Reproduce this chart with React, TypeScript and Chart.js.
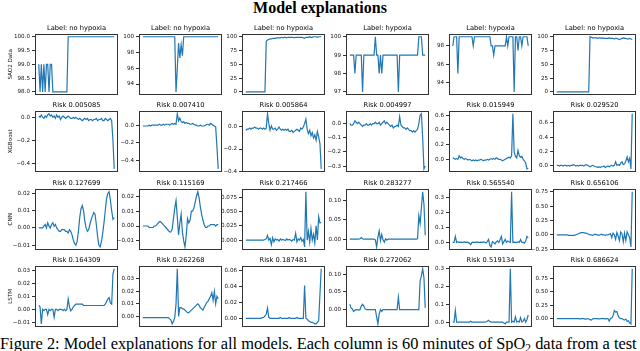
import React, { useEffect, useRef } from "react";
import { Chart, registerables } from "chart.js";

Chart.register(...registerables);
Chart.defaults.font.family = "'DejaVu Sans'";

// ---------- text ----------
const figTitle = "Model explanations";
const rowNames = ["SAO2 Data", "XGBoost", "CNN", "LSTM"];
const labelTitles = ["Label: no hypoxia", "Label: no hypoxia", "Label: no hypoxia", "Label: hypoxia", "Label: hypoxia", "Label: no hypoxia"];
const xgbTitles = ["Risk 0.005085", "Risk 0.007410", "Risk 0.005864", "Risk 0.004997", "Risk 0.015949", "Risk 0.029520"];
const cnnTitles = ["Risk 0.127699", "Risk 0.115169", "Risk 0.217466", "Risk 0.283277", "Risk 0.565540", "Risk 0.656106"];
const lstmTitles = ["Risk 0.164309", "Risk 0.262268", "Risk 0.187481", "Risk 0.272062", "Risk 0.519134", "Risk 0.686624"];

// ---------- tick labels ----------
const sao2Ticks = [
  ["98.0", "98.5", "99.0", "99.5", "100.0"],
  ["94", "96", "98", "100"],
  ["0", "25", "50", "75", "100"],
  ["97", "98", "99", "100"],
  ["94", "96", "98"],
  ["0", "25", "50", "75", "100"],
];
const xgbTicks = [
  ["\u22120.4", "\u22120.2", "0.0"],
  ["\u22120.4", "\u22120.2", "0.0"],
  ["\u22120.4", "\u22120.2", "0.0"],
  ["\u22120.3", "\u22120.2", "\u22120.1", "0.0"],
  ["0.0", "0.2", "0.4", "0.6"],
  ["0.0", "0.2", "0.4", "0.6"],
];
const cnnTicks = [
  ["\u22120.01", "0.00", "0.01", "0.02"],
  ["\u22120.01", "0.00", "0.01", "0.02"],
  ["0.000", "0.025", "0.050", "0.075"],
  ["0.00", "0.05", "0.10"],
  ["0.0", "0.1", "0.2", "0.3"],
  ["\u22120.25", "0.00", "0.25", "0.50", "0.75"],
];
const lstmTicks = [
  ["\u22120.01", "0.00", "0.01", "0.02", "0.03"],
  ["0.00", "0.01", "0.02", "0.03"],
  ["0.00", "0.02", "0.04", "0.06"],
  ["0.00", "0.05", "0.10"],
  ["0.0", "0.1", "0.2", "0.3"],
  ["0.00", "0.25", "0.50", "0.75"],
];

// ---------- SpO2 data (60 minutes) ----------
const sao2_c1 = [
  99, 98, 99, 98, 99, 98, 99, 99, 98, 99,
  99, 98, 98, 98, 98, 98, 98, 98, 98, 98,
  98, 98, 98, 100, 100, 100, 100, 100, 100, 100,
  100, 100, 100, 100, 100, 100, 100, 100, 100, 100,
  100, 100, 100, 100, 100, 100, 100, 100, 100, 100,
  100, 100, 100, 100, 100, 100, 100, 100, 100, 100,
];
const sao2_c2 = [
  100, 100, 100, 100, 100, 100, 100, 100, 100, 100,
  100, 100, 100, 100, 100, 100, 100, 100, 100, 100,
  100, 100, 100, 100, 100, 100, 93, 96, 99.2, 97.3,
  99, 97.6, 100, 100, 100, 100, 100, 100, 100, 100,
  100, 100, 100, 100, 100, 100, 100, 100, 100, 100,
  100, 100, 100, 100, 100, 100, 100, 100, 100, 100,
];
const sao2_c3 = [
  0, 0, 0, 0, 0, 0, 0, 0, 0, 0,
  0, 0, 0, 0, 0, 0, 92, 94, 95, 96,
  96, 97, 97, 97, 98, 98, 98, 98, 99, 98,
  99, 99, 98, 99, 99, 99, 99, 99, 98, 99,
  99, 99, 99, 99, 99, 98, 97, 99, 99, 99,
  100, 99, 99, 100, 100, 100, 99, 100, 100, 100,
];
const sao2_c4 = [
  99, 99, 99, 99, 98, 99, 99, 99, 99, 99,
  97, 99, 99, 99, 99, 99, 99, 99, 99, 99,
  100, 99, 99, 98, 99, 98, 99, 99, 99, 99,
  99, 99, 99, 99, 99, 99, 99, 99, 97, 99,
  99, 99, 99, 99, 99, 99, 99, 99, 99, 99,
  99, 99, 99, 99, 100, 100, 100, 99, 99, 99,
];
const sao2_c5 = [
  98, 99, 99, 99, 95, 99, 99, 99, 99, 99,
  99, 99, 99, 99, 99, 99, 98, 99, 99, 99,
  99, 99, 99, 99, 99, 99, 99, 99, 99, 99,
  98, 98, 97, 98, 98, 98, 98, 98, 98, 98,
  98, 98, 99, 98, 99, 99, 99, 99, 93, 99,
  99, 97.5, 99, 99, 98, 99, 99, 99, 99, 98,
];
const sao2_c6 = [
  0, 0, 0, 0, 0, 0, 0, 0, 0, 0,
  0, 0, 0, 0, 0, 0, 0, 0, 0, 0,
  0, 0, 0, 0, 0, 0, 100, 99, 98, 98,
  98, 98, 97, 98, 98, 97, 98, 97, 97, 97,
  97, 98, 97, 97, 97, 96, 97, 97, 96, 95,
  96, 97, 98, 97, 97, 96, 96, 97, 96, 95,
];

// ---------- XGBoost explanations ----------
const xgb_c1 = [
  0.01, 0.0, 0.02, 0.0, -0.01, 0.01, 0.0, 0.02, 0.03, 0.01,
  0.02, 0.0, 0.01, -0.01, 0.02, 0.0, 0.01, -0.02, 0.0, 0.01,
  0.0, -0.01, 0.0, 0.01, 0.0, -0.01, -0.01, 0.0, -0.01, 0.0,
  -0.01, -0.02, -0.01, -0.02, -0.03, -0.02, -0.01, -0.02, -0.01, -0.03,
  -0.02, -0.02, -0.03, -0.02, -0.02, -0.01, -0.03, -0.02, -0.02, -0.01,
  -0.03, -0.03, -0.01, -0.02, -0.03, -0.02, -0.01, -0.03, -0.2, -0.45,
];
const xgb_c2 = [
  -0.01, -0.01, -0.01, -0.01, -0.01, 0.0, -0.01, 0.0, 0.0, 0.0,
  0.0, 0.0, 0.0, 0.01, 0.0, 0.0, 0.01, 0.0, 0.01, 0.01,
  0.01, 0.0, 0.01, 0.02, 0.01, 0.02, 0.01, 0.13, 0.05, 0.08,
  0.04, 0.03, 0.04, 0.02, 0.03, 0.02, 0.02, 0.01, 0.01, 0.02,
  0.01, 0.0, 0.0, -0.01, -0.01, 0.0, -0.01, -0.01, -0.01, 0.0,
  0.01, 0.01, 0.0, 0.02, 0.01, 0.0, -0.01, -0.02, -0.25, -0.5,
];
const xgb_c3 = [
  -0.03, -0.02, -0.02, -0.01, -0.02, -0.01, -0.01, 0.0, -0.01, -0.01,
  -0.02, -0.01, -0.01, -0.02, -0.01, -0.02, -0.01, 0.12, 0.03, -0.03,
  0.01, -0.02, -0.02, -0.01, -0.03, -0.02, 0.0, -0.02, -0.03, -0.02,
  -0.03, -0.02, -0.03, -0.02, -0.04, -0.04, -0.03, -0.05, -0.04, -0.03,
  -0.02, -0.03, -0.04, -0.01, -0.02, 0.0, 0.03, 0.07, -0.02, -0.06,
  -0.03, -0.08, -0.05, -0.1, -0.07, -0.12, -0.04, -0.09, -0.15, -0.38,
];
const xgb_c4 = [
  0.0, -0.01, -0.01, 0.0, 0.02, 0.01, 0.0, 0.01, 0.0, -0.01,
  -0.02, -0.01, -0.01, 0.0, -0.01, -0.01, 0.0, -0.01, 0.0, 0.0,
  0.01, 0.0, 0.0, 0.01, -0.01, 0.0, 0.01, 0.02, 0.0, 0.01,
  0.0, -0.01, -0.02, -0.01, -0.03, -0.02, -0.02, -0.01, -0.02, 0.05,
  -0.01, -0.02, -0.03, -0.03, -0.04, -0.03, -0.04, -0.05, -0.05, -0.06,
  -0.05, -0.06, -0.05, -0.04, 0.0, 0.06, 0.07, -0.1, -0.32, -0.3,
];
const xgb_c5 = [
  0.02, 0.01, 0.0, 0.01, 0.0, 0.05, 0.02, 0.03, 0.01, 0.0,
  0.01, 0.0, -0.01, 0.0, -0.01, -0.02, -0.01, -0.02, -0.01, -0.02,
  -0.01, -0.01, 0.0, -0.01, -0.02, -0.01, -0.01, 0.0, -0.01, 0.0,
  0.01, 0.0, 0.01, 0.0, 0.02, 0.01, 0.0, 0.0, -0.01, -0.02,
  -0.01, 0.0, 0.01, 0.02, 0.03, 0.02, 0.05, 0.62, 0.1, 0.04,
  0.02, 0.12, 0.05, 0.03, 0.04, 0.0, -0.02, -0.05, -0.13, -0.12,
];
const xgb_c6 = [
  0.0, 0.0, -0.01, 0.0, 0.0, -0.01, 0.0, 0.0, -0.01, 0.0,
  -0.01, 0.0, 0.0, 0.01, 0.0, -0.01, 0.0, -0.01, 0.0, 0.0,
  0.0, -0.01, 0.0, 0.01, 0.0, -0.01, -0.02, -0.01, 0.0, -0.01,
  -0.02, -0.02, -0.03, -0.02, -0.03, -0.02, -0.02, -0.01, -0.03, -0.02,
  -0.01, -0.02, -0.01, 0.0, -0.01, 0.0, 0.05, 0.0, 0.01, 0.0,
  0.03, 0.05, 0.01, 0.02, 0.06, 0.12, 0.05, 0.1, -0.05, 0.73,
];

// ---------- CNN explanations ----------
const cnn_c1 = [
  0.0, 0.0, 0.0, 0.0, 0.001, 0.002, 0.0, 0.003, 0.001, 0.0,
  0.002, 0.003, 0.001, 0.002, 0.0, -0.001, -0.002, -0.002, -0.001, -0.001,
  -0.001, -0.002, -0.002, -0.003, -0.001, -0.002, -0.004, -0.007, -0.009, -0.01,
  -0.008, -0.002, 0.006, 0.011, 0.013, 0.01, 0.004, 0.0, -0.002, -0.001,
  0.002, 0.005, 0.007, 0.009, 0.008, 0.002, -0.005, -0.01, -0.011, -0.008,
  -0.003, 0.003, 0.01, 0.017, 0.02, 0.021, 0.016, 0.01, 0.005, 0.006,
];
const cnn_c2 = [
  0.0, 0.0, 0.0, 0.0, 0.0, -0.001, -0.001, -0.001, -0.001, 0.0,
  0.0, 0.001, 0.002, 0.003, 0.003, 0.002, 0.001, 0.0, -0.001, -0.002,
  -0.003, -0.004, -0.004, -0.002, 0.005, 0.012, 0.017, 0.006, -0.006, 0.002,
  0.008, -0.004, -0.01, -0.014, -0.006, 0.005, 0.002, 0.004, 0.01, 0.01,
  0.012, 0.016, 0.02, 0.023, 0.019, 0.013, 0.008, 0.004, 0.001, -0.001,
  -0.001, 0.0, 0.0, 0.001, 0.001, 0.001, 0.001, 0.0, 0.001, 0.001,
];
const cnn_c3 = [
  0.0, 0.0, 0.0, 0.0, 0.0, 0.0, 0.0, 0.0, 0.0, 0.0,
  0.0, 0.0, 0.0, 0.0, 0.0, 0.001, 0.002, 0.008, 0.0, 0.003,
  -0.008, 0.004, -0.003, 0.002, 0.0, 0.001, -0.002, 0.002, 0.0, 0.001,
  0.0, -0.001, 0.002, 0.0, 0.001, 0.0, -0.002, 0.001, 0.0, 0.012,
  -0.003, 0.002, 0.0, 0.004, -0.002, 0.001, -0.012, 0.085, 0.0, 0.015,
  -0.004, 0.02, 0.0, 0.01, -0.005, 0.025, 0.0, 0.041, 0.03, 0.031,
];
const cnn_c4 = [
  0.0, 0.0, 0.0, 0.0, 0.0, 0.0, 0.0, 0.0, 0.001, 0.004,
  0.001, 0.0, 0.0, 0.0, 0.0, 0.0, 0.0, 0.0, 0.0, 0.0,
  -0.002, -0.02, 0.005, 0.021, -0.004, 0.012, -0.002, -0.008, 0.001, -0.002,
  0.0, 0.0, 0.0, 0.0, 0.0, 0.0, 0.0, 0.0, 0.0, 0.0,
  0.0, 0.0, 0.0, 0.0, 0.0, 0.0, 0.0, 0.0, 0.0, 0.0,
  0.0, 0.0, 0.0, 0.001, 0.06, 0.04, 0.08, 0.122, 0.09, 0.01,
];
const cnn_c5 = [
  0.0, 0.0, 0.04, 0.0, 0.005, 0.0, 0.002, 0.0, 0.0, 0.003,
  0.0, 0.002, 0.0, -0.005, -0.015, 0.0, 0.002, 0.0, 0.0, 0.003,
  0.0, 0.0, 0.002, 0.0, 0.003, 0.0, -0.003, 0.005, 0.02, -0.02,
  -0.03, 0.005, 0.0, -0.01, 0.004, 0.01, 0.0, 0.02, 0.04, -0.01,
  0.005, 0.02, 0.0, 0.01, 0.005, 0.0, 0.34, 0.0, 0.002, 0.0,
  0.0, 0.005, 0.0, 0.02, 0.0, 0.0, -0.005, 0.01, 0.04, 0.03,
];
const cnn_c6 = [
  0.0, 0.0, 0.0, 0.0, 0.0, 0.0, 0.0, 0.0, 0.0, -0.01,
  -0.01, -0.01, -0.01, -0.01, -0.01, 0.0, 0.01, 0.02, 0.03, 0.04,
  0.04, 0.04, 0.03, 0.03, 0.02, 0.01, 0.0, 0.0, -0.01, 0.0,
  0.01, 0.0, 0.0, -0.01, 0.0, 0.01, 0.0, 0.0, -0.01, 0.0,
  0.0, 0.01, 0.02, -0.05, 0.03, 0.0, -0.08, 0.04, -0.02, -0.1,
  0.05, 0.02, -0.12, 0.03, -0.1, 0.05, 0.0, -0.05, -0.21, 0.75,
];

// ---------- LSTM explanations ----------
const lstm_c1 = [
  0.003, 0.002, -0.011, 0.0, -0.001, 0.0, 0.0, -0.004, 0.0, -0.001,
  0.0, 0.0, -0.006, 0.0, 0.0, -0.001, 0.0, 0.0, 0.0, -0.001,
  0.0, -0.001, 0.0, 0.008, 0.002, -0.001, 0.0, 0.002, 0.003, 0.004,
  0.004, 0.004, 0.004, 0.004, 0.004, 0.003, 0.003, 0.003, 0.003, 0.003,
  0.003, 0.003, 0.003, 0.003, 0.003, 0.003, 0.003, 0.003, 0.003, 0.003,
  0.003, 0.003, 0.004, 0.006, 0.008, 0.009, 0.005, 0.004, 0.027, 0.031,
];
const lstm_c2 = [
  -0.001, -0.001, -0.001, -0.001, -0.001, -0.001, -0.001, -0.001, -0.001, -0.001,
  -0.001, -0.001, -0.001, -0.001, -0.001, -0.001, -0.001, -0.001, -0.001, -0.001,
  -0.001, -0.002, -0.003, -0.006, -0.004, -0.001, 0.01, 0.038, 0.0, 0.007,
  0.007, 0.006, 0.006, 0.005, 0.004, 0.003, 0.003, 0.004, 0.005, 0.006,
  0.007, 0.008, 0.009, 0.01, 0.009, 0.007, 0.006, 0.005, 0.007, 0.009,
  0.011, 0.012, 0.014, 0.016, 0.019, 0.013, 0.02, 0.01, 0.016, 0.014,
];
const lstm_c3 = [
  0.0, 0.0, 0.0, 0.0, 0.0, 0.0, 0.0, 0.0, 0.0, 0.0,
  0.0, 0.0, 0.0, 0.001, 0.001, 0.003, 0.005, 0.013, 0.001, 0.0,
  0.0, 0.0, 0.0, 0.0, 0.0, 0.0, 0.0, 0.001, 0.0, 0.0,
  0.0, 0.0, 0.0, 0.0, 0.001, 0.0, 0.0, 0.0, 0.0, 0.0,
  0.001, 0.0, 0.0, 0.0, 0.0, 0.0, 0.041, 0.0, -0.001, -0.003,
  -0.004, -0.005, -0.005, -0.006, -0.007, -0.007, -0.005, -0.003, 0.03, 0.062,
];
const lstm_c4 = [
  0.015, 0.005, 0.002, -0.005, -0.002, 0.0, 0.0, -0.001, 0.0, 0.01,
  0.015, 0.01, 0.002, 0.0, 0.0, 0.0, 0.0, 0.0, 0.0, 0.0,
  0.0, -0.02, -0.04, -0.012, 0.0, -0.005, 0.0, 0.0, 0.0, 0.0,
  0.0, 0.0, 0.0, 0.0, 0.0, 0.0, 0.0, 0.0, 0.035, 0.0,
  0.0, 0.0, 0.0, 0.0, 0.0, 0.0, 0.0, 0.0, 0.0, 0.0,
  0.0, 0.0, 0.0, 0.0, 0.0, 0.08, 0.095, 0.115, 0.09, 0.005,
];
const lstm_c5 = [
  0.0, 0.0, 0.065, 0.0, 0.0, 0.0, 0.0, 0.0, 0.0, 0.0,
  0.0, 0.0, 0.0, 0.0, 0.005, 0.0, 0.0, 0.0, 0.0, 0.0,
  0.0, 0.0, 0.0, 0.0, 0.0, 0.0, 0.002, 0.005, 0.01, 0.003,
  0.0, 0.0, 0.0, 0.0, 0.0, 0.0, 0.0, 0.0, 0.0, 0.0,
  -0.005, -0.01, 0.0, 0.0, 0.0, 0.3, 0.0, 0.005, 0.0, 0.03,
  0.0, 0.005, 0.0, 0.025, 0.0, 0.005, 0.02, 0.0, 0.015, 0.04,
];
const lstm_c6 = [
  0.0, 0.0, 0.0, 0.0, 0.0, 0.0, 0.0, 0.0, 0.0, 0.0,
  0.0, 0.0, 0.0, 0.0, 0.0, 0.0, 0.0, 0.0, -0.01, 0.0,
  0.0, 0.0, -0.01, -0.01, 0.0, -0.01, -0.02, -0.03, -0.01, 0.0,
  0.0, 0.0, 0.0, -0.01, 0.0, 0.0, 0.0, 0.0, -0.01, 0.0,
  0.0, -0.05, 0.0, 0.01, 0.05, 0.15, 0.12, 0.13, 0.05, 0.01,
  0.0, 0.0, -0.02, -0.03, -0.01, -0.05, -0.04, -0.08, -0.1, 0.93,
];

const rows = [
  { name: rowNames[0], titles: labelTitles, ticks: sao2Ticks, series: [sao2_c1, sao2_c2, sao2_c3, sao2_c4, sao2_c5, sao2_c6] },
  { name: rowNames[1], titles: xgbTitles, ticks: xgbTicks, series: [xgb_c1, xgb_c2, xgb_c3, xgb_c4, xgb_c5, xgb_c6] },
  { name: rowNames[2], titles: cnnTitles, ticks: cnnTicks, series: [cnn_c1, cnn_c2, cnn_c3, cnn_c4, cnn_c5, cnn_c6] },
  { name: rowNames[3], titles: lstmTitles, ticks: lstmTicks, series: [lstm_c1, lstm_c2, lstm_c3, lstm_c4, lstm_c5, lstm_c6] },
];

// ---------- layout ----------
const COL_LEFT = [35, 139, 242, 346, 449, 553];
const ROW_TOP = [34, 111, 189, 266];
const BOX_W = 83;
const BOX_H = 65;
const AXIS_W = 34;
const TITLE_H = 13;

const framePlugin = {
  id: "frame",
  afterDraw(chart: any) {
    const { ctx, chartArea } = chart;
    const l = Math.round(chartArea.left);
    const t = Math.round(chartArea.top);
    const w = Math.round(chartArea.right - chartArea.left);
    const h = Math.round(chartArea.bottom - chartArea.top);
    ctx.save();
    ctx.strokeStyle = "#333";
    ctx.lineWidth = 1;
    ctx.strokeRect(l + 0.5, t + 0.5, w - 1, h - 1);
    ctx.restore();
  },
};

function Panel(props: { left: number; top: number; title: string; values: number[]; ticks: string[]; yLabel?: string }) {
  const { left, top, title, values, ticks, yLabel } = props;
  const ref = useRef<HTMLCanvasElement>(null);
  const axisW = yLabel ? left : AXIS_W;
  const cl = left - axisW;
  const ct = top - TITLE_H;
  const w = axisW + BOX_W + 1;
  const h = TITLE_H + BOX_H + 1;

  useEffect(() => {
    const tickVals = ticks.map((t) => parseFloat(t.replace("\u2212", "-")));
    const mn = Math.min(...values);
    const mx = Math.max(...values);
    const pad = (mx - mn) * 0.05;
    const chart = new Chart(ref.current as HTMLCanvasElement, {
      type: "line",
      data: {
        datasets: [
          {
            data: values.map((v, i) => ({ x: i, y: v })),
            borderColor: "#1f77b4",
            borderWidth: 1.2,
            pointRadius: 0,
            tension: 0,
            fill: false,
          },
        ],
      },
      options: {
        responsive: false,
        animation: false,
        events: [],
        layout: { padding: { left: 0, right: 1, top: 0, bottom: 1 } },
        plugins: {
          legend: { display: false },
          tooltip: { enabled: false },
          title: {
            display: true,
            text: title,
            fullSize: false,
            color: "#000",
            font: { size: 6.7, weight: "normal", lineHeight: "8px" },
            padding: { top: 3, bottom: 2 },
          },
        },
        scales: {
          x: { type: "linear", display: false, min: -2.95, max: 61.95 },
          y: {
            type: "linear",
            min: mn - pad,
            max: mx + pad,
            bounds: "data",
            afterFit: (s: any) => {
              s.width = axisW;
            },
            afterBuildTicks: (s: any) => {
              s.ticks = tickVals.map((v) => ({ value: v }));
            },
            ticks: {
              autoSkip: false,
              callback: (_v: any, i: number) => ticks[i],
              font: { size: 5.6 },
              color: "#111",
              padding: 2,
            },
            grid: { drawOnChartArea: false, drawTicks: true, tickLength: 3, color: "#333", lineWidth: 1 },
            border: { display: false },
            title: yLabel
              ? { display: true, text: yLabel, font: { size: 5.6 }, color: "#111", padding: { top: 7, bottom: 0 } }
              : { display: false },
          },
        },
      } as any,
      plugins: [framePlugin],
    });
    return () => chart.destroy();
  }, []);

  return (
    <canvas
      ref={ref}
      width={w}
      height={h}
      style={{ position: "absolute", left: cl, top: ct, width: w, height: h }}
    />
  );
}

export default function App() {
  return (
    <div style={{ position: "absolute", left: 0, top: 0, width: 640, height: 351, overflow: "hidden", background: "#fff" }}>
      <div
        style={{
          position: "absolute",
          left: 0,
          top: 0,
          width: 640,
          textAlign: "center",
          fontFamily: "'Liberation Serif'",
          fontWeight: "bold",
          fontSize: "16px",
          lineHeight: "16px",
          color: "#000",
        }}
      >
        {figTitle}
      </div>
      {rows.map((row, r) =>
        row.series.map((vals, c) => (
          <Panel
            key={`${r}-${c}`}
            left={COL_LEFT[c]}
            top={ROW_TOP[r]}
            title={row.titles[c]}
            values={vals}
            ticks={row.ticks[c]}
            yLabel={c === 0 ? row.name : undefined}
          />
        ))
      )}
      <div
        style={{
          position: "absolute",
          left: 0,
          top: 336,
          whiteSpace: "nowrap",
          fontFamily: "'Liberation Serif'",
          fontSize: "16.4px",
          lineHeight: "16.4px",
          color: "#000",
        }}
      >
        Figure 2: Model explanations for all models. Each column is 60 minutes of SpO
        <sub style={{ fontSize: "0.7em", verticalAlign: "-0.25em", lineHeight: 0 }}>2</sub> data from a test
      </div>
    </div>
  );
}
